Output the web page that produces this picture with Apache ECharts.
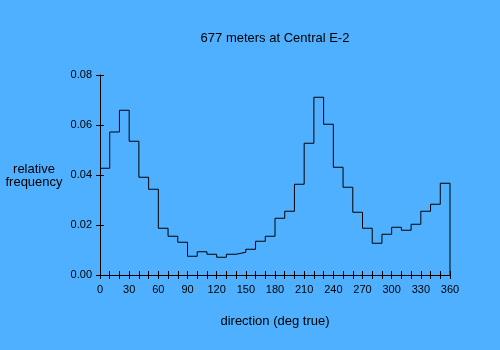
<!DOCTYPE html>
<html>
<head>
<meta charset="utf-8">
<script src="https://cdn.jsdelivr.net/npm/echarts@6/dist/echarts.min.js"></script>
<style>
  html, body { margin: 0; padding: 0; background: #4FB0FF; }
  #chart { width: 500px; height: 350px; }
</style>
</head>
<body>
<div id="chart"></div>
<script>
// Left edge of each 10-degree direction bin (degrees true)
const binStarts = [0, 10, 20, 30, 40, 50, 60, 70, 80, 90, 100, 110,
  120, 130, 140, 150, 160, 170, 180, 190, 200, 210, 220, 230,
  240, 250, 260, 270, 280, 290, 300, 310, 320, 330, 340, 350];
const binEnd = 360;

// Relative frequency of each bin
const frequency = [0.0427, 0.0572, 0.0659, 0.0535, 0.0391, 0.0343, 0.0187, 0.0155, 0.0131,
  0.0075, 0.0093, 0.0083, 0.0071, 0.0083, 0.0091, 0.0103, 0.0135, 0.0155,
  0.0227, 0.0255, 0.0363, 0.0527, 0.0711, 0.0603, 0.0431, 0.0351, 0.0251,
  0.0187, 0.0127, 0.0163, 0.0191, 0.0179, 0.0203, 0.0255, 0.0283, 0.0367];

const xTickLabels = [0, 30, 60, 90, 120, 150, 180, 210, 240, 270, 300, 330, 360];
const yTickLabels = ['0.00', '0.02', '0.04', '0.06', '0.08'];

const titleText = '677 meters at Central E-2';
const xName = 'direction (deg true)';
const yName = 'relative\nfrequency';

// Step outline: each bin's value starts at its left edge, closing down to zero at 360
const outline = binStarts.map((x, i) => [x, frequency[i]]);
outline.push([binEnd, frequency[frequency.length - 1]]);
outline.push([binEnd, 0]);

const font = '"Liberation Sans", Arial, sans-serif';
const ink = '#000000';

const chart = echarts.init(document.getElementById('chart'), null, { renderer: 'canvas' });

const xBase = {
  type: 'value', min: 0, max: 360, interval: 10,
  splitLine: { show: false }
};
const yBase = {
  type: 'value', min: 0, max: 0.08, interval: 0.02,
  splitLine: { show: false }
};

chart.setOption({
  backgroundColor: '#4FB0FF',
  animation: false,
  grid: { left: 100, right: 50, top: 75, bottom: 75, containLabel: false },
  xAxis: [
    Object.assign({}, xBase, {
      position: 'bottom',
      name: xName,
      nameLocation: 'middle',
      nameGap: 40,
      nameTextStyle: { color: ink, fontFamily: font, fontSize: 13 },
      axisLine: { show: true, lineStyle: { color: ink, width: 1 } },
      axisTick: { show: true, inside: false, length: 4, lineStyle: { color: ink, width: 1 } },
      axisLabel: {
        color: ink, fontFamily: font, fontSize: 11, margin: 9,
        formatter: v => (xTickLabels.indexOf(v) >= 0 ? String(v) : '')
      }
    }),
    Object.assign({}, xBase, {
      position: 'bottom', offset: 0,
      axisLine: { show: false },
      axisTick: { show: true, inside: true, length: 4, lineStyle: { color: ink, width: 1 } },
      axisLabel: { show: false }
    })
  ],
  yAxis: [
    Object.assign({}, yBase, {
      position: 'left',
      axisLine: { show: true, lineStyle: { color: ink, width: 1 } },
      axisTick: { show: true, inside: false, length: 4, lineStyle: { color: ink, width: 1 } },
      axisLabel: {
        color: ink, fontFamily: font, fontSize: 11, margin: 8,
        formatter: v => yTickLabels[Math.round(v / 0.02)]
      }
    }),
    Object.assign({}, yBase, {
      position: 'left', offset: 0,
      axisLine: { show: false },
      axisTick: { show: true, inside: true, length: 4, lineStyle: { color: ink, width: 1 } },
      axisLabel: { show: false }
    })
  ],
  graphic: [
    {
      type: 'text',
      style: {
        text: titleText, x: 275, y: 38,
        align: 'center', verticalAlign: 'middle',
        fill: ink, font: '13px ' + font
      }
    },
    {
      type: 'text',
      style: {
        text: yName, x: 34, y: 176,
        align: 'center', verticalAlign: 'middle',
        lineHeight: 13,
        fill: ink, font: '13px ' + font
      }
    }
  ],
  series: [{
    type: 'line',
    xAxisIndex: 0, yAxisIndex: 0,
    step: 'end',
    data: outline,
    showSymbol: false,
    symbol: 'none',
    lineStyle: { color: ink, width: 1 },
    silent: true
  }]
});
</script>
</body>
</html>
